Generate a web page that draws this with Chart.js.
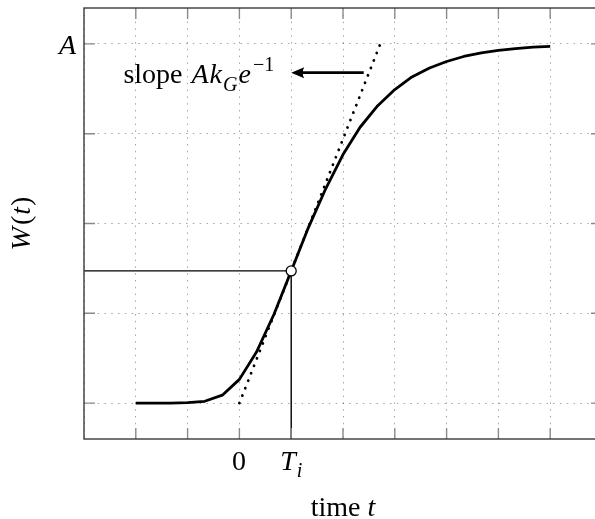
<!DOCTYPE html>
<html>
<head>
<meta charset="utf-8">
<script src="https://cdn.jsdelivr.net/npm/chart.js@4"></script>
<style>
    html, body { margin: 0; padding: 0; background: #fff; overflow: hidden; }
    #wrap { width: 615px; height: 519px; }
</style>
</head>
<body>
<div id="wrap"><canvas id="growthChart" width="615" height="519"></canvas></div>
<script>
// Courbe de Gompertz (t, W/A)
const curveT = [-2, -1.67, -1.33, -1, -0.67, -0.33, 0, 0.33, 0.67, 1, 1.33, 1.67, 2,
                2.33, 2.67, 3, 3.33, 3.67, 4, 4.33, 4.67, 5, 5.33, 5.67, 6];
const curveW = [0, 0, 0, 0.001, 0.005, 0.022, 0.066, 0.142, 0.248, 0.368, 0.488, 0.598, 0.692,
                0.768, 0.828, 0.873, 0.908, 0.933, 0.951, 0.965, 0.975, 0.982, 0.987, 0.991, 0.993];

// tangente au point d'inflexion
const tangentT = [0, 2.72];
const tangentW = [0, 1];

// point d'inflexion et lignes de repère
const inflT = 1;
const inflW = 0.368;
const guideT = [-3, 1, 1];
const guideW = [0.368, 0.368, -0.1];

// flèche de l'annotation
const arrowT = [2.4, 1.0];
const arrowW = 0.92;

// axes
const xRange = [-3, 7];
const yRange = [-0.1, 1.1];
const xGridTicks = [-3, -2, -1, 0, 1, 2, 3, 4, 5, 6, 7];
const yGridTicks = [0, 0.25, 0.5, 0.75, 1];
const xTickLabels = [{ value: 0, text: "0" }, { value: 1, text: "T", sub: "i" }];
const yTickLabels = [{ value: 1, text: "A" }];

const SERIF = '"Liberation Serif", "DejaVu Serif", serif';
const BIG = 28;
const SMALL = 20;

function font(size, italic) {
    return (italic ? "italic " : "") + size + "px " + SERIF;
}

// texte en plusieurs morceaux (italique, indice, exposant)
function runWidth(ctx, parts) {
    let w = 0;
    parts.forEach(p => {
        ctx.font = font(p.size || BIG, p.italic);
        w += ctx.measureText(p.t).width + (p.gap || 0);
    });
    return w;
}

function drawRun(ctx, parts, x, y) {
    parts.forEach(p => {
        ctx.font = font(p.size || BIG, p.italic);
        ctx.fillText(p.t, x, y + (p.dy || 0));
        x += ctx.measureText(p.t).width + (p.gap || 0);
    });
}

const framePlugin = {
    id: "frame",
    afterDatasetsDraw(chart) {
        const { ctx, chartArea: a, scales } = chart;
        const xs = scales.x, ys = scales.y;
        ctx.save();

        // petites graduations à l'intérieur, sur les 4 côtés
        ctx.strokeStyle = "#8a8a8a";
        ctx.lineWidth = 1.4;
        ctx.beginPath();
        xGridTicks.slice(1, -1).forEach(v => {
            const px = xs.getPixelForValue(v);
            ctx.moveTo(px, a.bottom); ctx.lineTo(px, a.bottom - 11);
            ctx.moveTo(px, a.top); ctx.lineTo(px, a.top + 11);
        });
        yGridTicks.forEach(v => {
            const py = ys.getPixelForValue(v);
            ctx.moveTo(a.left, py); ctx.lineTo(a.left + 11, py);
            ctx.moveTo(a.right, py); ctx.lineTo(a.right - 11, py);
        });
        ctx.stroke();

        // cadre
        ctx.strokeStyle = "#3a3a3a";
        ctx.lineWidth = 1.4;
        ctx.strokeRect(a.left, a.top, a.right - a.left, a.bottom - a.top);

        // flèche
        const ay = ys.getPixelForValue(arrowW);
        const x0 = xs.getPixelForValue(arrowT[0]);
        const x1 = xs.getPixelForValue(arrowT[1]);
        ctx.strokeStyle = "#000";
        ctx.fillStyle = "#000";
        ctx.lineWidth = 2.7;
        ctx.beginPath();
        ctx.moveTo(x0, ay); ctx.lineTo(x1 + 8, ay);
        ctx.stroke();
        ctx.beginPath();
        ctx.moveTo(x1, ay);
        ctx.lineTo(x1 + 13, ay - 5.5);
        ctx.quadraticCurveTo(x1 + 10, ay, x1 + 13, ay + 5.5);
        ctx.closePath();
        ctx.fill();

        // texte "slope A k_G e^-1"
        const slope = [
            { t: "slope", gap: 9 },
            { t: "A", italic: true, gap: 1 },
            { t: "k", italic: true, gap: 1 },
            { t: "G", italic: true, size: SMALL, dy: 8, gap: 1 },
            { t: "e", italic: true, gap: 2 },
            { t: "\u22121", size: SMALL, dy: -12 }
        ];
        ctx.textAlign = "left";
        ctx.textBaseline = "alphabetic";
        const sw = runWidth(ctx, slope);
        drawRun(ctx, slope, x1 - 17 - sw, ay + 10.5);

        // étiquettes des graduations
        xTickLabels.forEach(l => {
            const parts = [{ t: l.text, italic: l.text !== "0", gap: 1 }];
            if (l.sub) parts.push({ t: l.sub, italic: true, size: SMALL, dy: 7 });
            const w = runWidth(ctx, parts);
            drawRun(ctx, parts, xs.getPixelForValue(l.value) - w / 2, a.bottom + 31);
        });
        yTickLabels.forEach(l => {
            const parts = [{ t: l.text, italic: true }];
            const w = runWidth(ctx, parts);
            drawRun(ctx, parts, a.left - 8 - w, ys.getPixelForValue(l.value) + 10);
        });

        // titres des axes
        const xTitle = [{ t: "time", gap: 7 }, { t: "t", italic: true }];
        const xw = runWidth(ctx, xTitle);
        drawRun(ctx, xTitle, (a.left + a.right) / 2 - xw / 2, 516);

        const yTitle = [{ t: "W", italic: true, gap: 2 }, { t: "(", gap: 1 }, { t: "t", italic: true, gap: 1 }, { t: ")" }];
        const yw = runWidth(ctx, yTitle);
        ctx.translate(30, (a.top + a.bottom) / 2);
        ctx.rotate(-Math.PI / 2);
        drawRun(ctx, yTitle, -yw / 2, 0);

        ctx.restore();
    }
};

const zeroSize = function (scale) {
    if (scale.isHorizontal()) scale.height = 0; else scale.width = 0;
};

const chart = new Chart(document.getElementById("growthChart"), {
    type: "line",
    data: {
        datasets: [
            {
                // point d'inflexion
                data: [{ x: inflT, y: inflW }],
                showLine: false,
                pointRadius: 5,
                pointBackgroundColor: "#fff",
                pointBorderColor: "#000",
                pointBorderWidth: 1.3,
                order: 0
            },
            {
                data: curveT.map((t, i) => ({ x: t, y: curveW[i] })),
                borderColor: "#000",
                borderWidth: 2.8,
                pointRadius: 0,
                tension: 0,
                borderJoinStyle: "round",
                order: 1
            },
            {
                data: tangentT.map((t, i) => ({ x: t, y: tangentW[i] })),
                borderColor: "#000",
                borderWidth: 2.8,
                borderDash: [0.1, 7.9],
                borderCapStyle: "round",
                pointRadius: 0,
                order: 2
            },
            {
                data: guideT.map((t, i) => ({ x: t, y: guideW[i] })),
                borderColor: "#000",
                borderWidth: 1.4,
                pointRadius: 0,
                order: 3
            }
        ]
    },
    options: {
        responsive: false,
        animation: false,
        layout: { padding: { left: 84, right: 13, top: 8, bottom: 80 } },
        plugins: { legend: { display: false }, tooltip: { enabled: false } },
        scales: {
            x: {
                type: "linear",
                min: xRange[0],
                max: xRange[1],
                afterBuildTicks: s => { s.ticks = xGridTicks.map(v => ({ value: v })); },
                afterFit: zeroSize,
                ticks: { display: false },
                grid: { color: "rgba(0,0,0,0.35)", lineWidth: 1, drawTicks: false },
                border: { display: false, dash: [1.5, 5.3] }
            },
            y: {
                type: "linear",
                min: yRange[0],
                max: yRange[1],
                afterBuildTicks: s => { s.ticks = yGridTicks.map(v => ({ value: v })); },
                afterFit: zeroSize,
                ticks: { display: false },
                grid: { color: "rgba(0,0,0,0.35)", lineWidth: 1, drawTicks: false },
                border: { display: false, dash: [1.5, 5.3] }
            }
        }
    },
    plugins: [framePlugin]
});
</script>
</body>
</html>
